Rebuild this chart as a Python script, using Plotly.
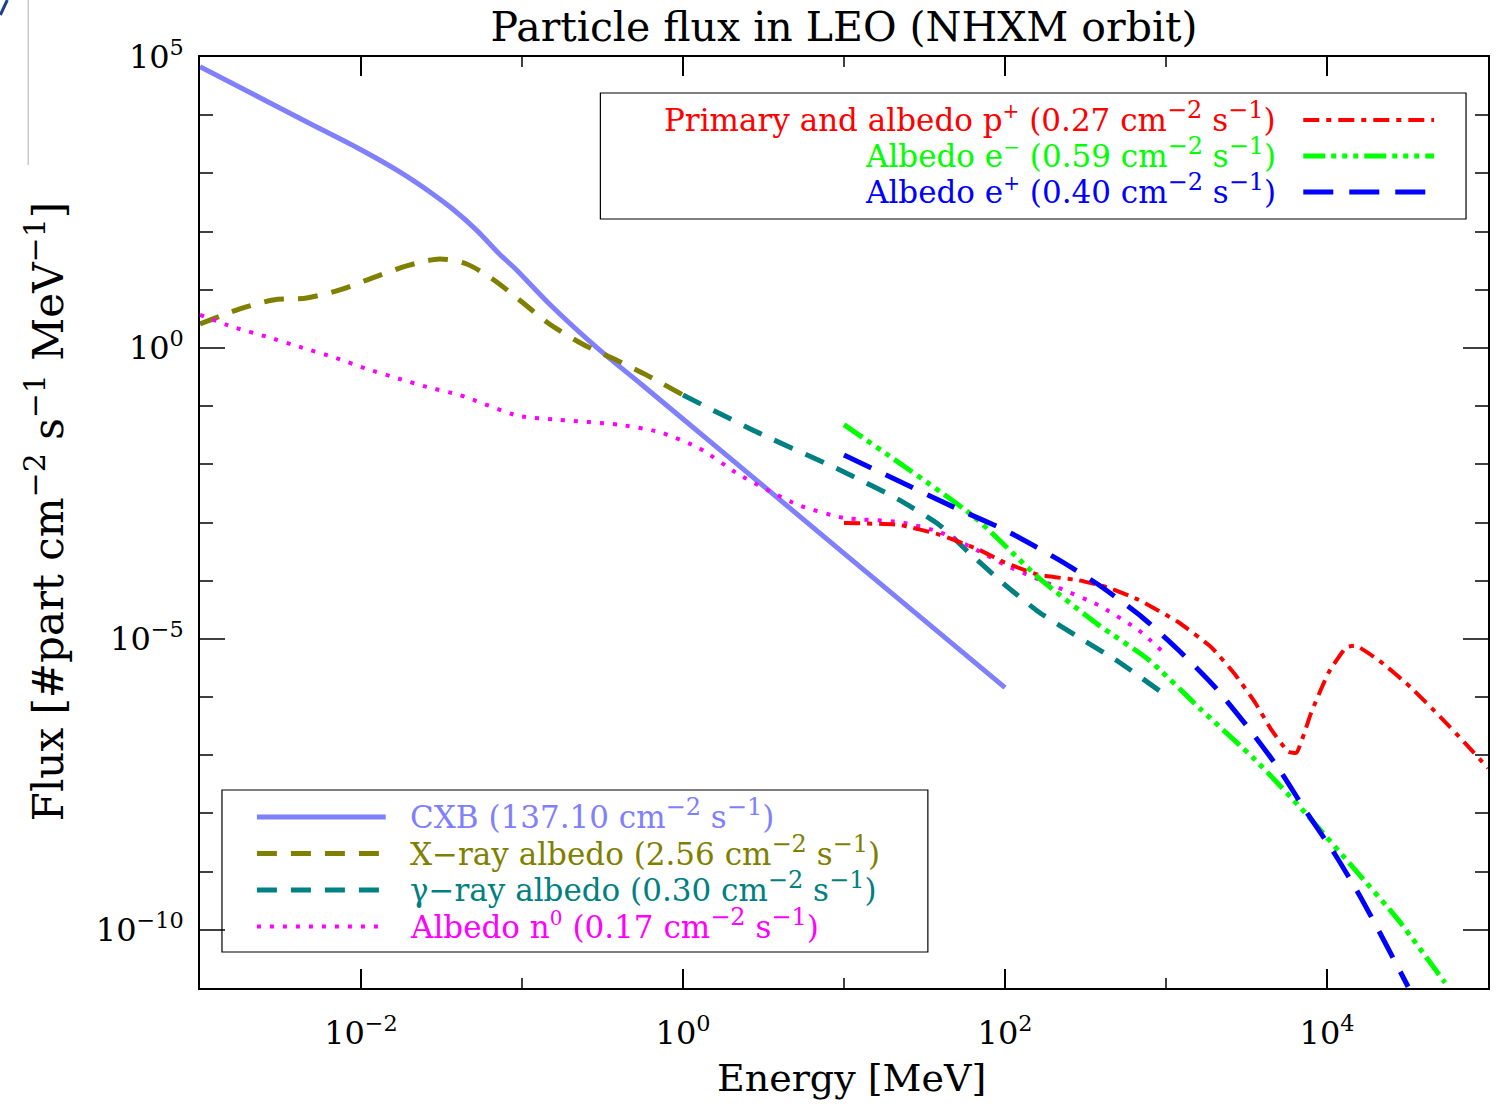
import plotly.graph_objects as go

# ---------------- data ----------------
cxb_E    = [1e-3, 2.13e-3, 4.61e-3, 9.8e-3, 1.74e-2, 2.79e-2, 3.71e-2, 5.22e-2, 7.24e-2, 9.25e-2,
            0.148, 0.303, 0.558, 10.0, 100.0]
cxb_F    = [6.8e4, 2.31e4, 7.64e3, 2.62e3, 1.06e3, 443, 244, 106, 41.2, 21.9,
            5.7, 0.925, 0.231, 2.95e-4, 1.45e-6]

xray_E   = [1e-3, 1.77e-3, 2.84e-3, 4.61e-3, 7.38e-3, 1.18e-2, 1.92e-2, 3.08e-2, 4.53e-2, 6.56e-2,
            9.64e-2, 0.148, 0.237, 0.385, 0.591, 1.0]
xray_F   = [2.58, 4.68, 6.68, 7.23, 9.93, 16.0, 25.7, 33.8, 27.7, 15.3,
            6.68, 2.58, 1.17, 0.622, 0.344, 0.155]

gamma_E  = [1.0, 2.95, 10, 22, 39, 60, 100, 162, 290, 510, 930]
gamma_F  = [0.155, 0.0347, 7.4e-3, 2.45e-3, 9.1e-4, 3.0e-4, 8.5e-5, 2.9e-5, 1.05e-5, 4.0e-6, 1.23e-6]

n0_E     = [1e-3, 1.6e-3, 2.61e-3, 4.17e-3, 6.68e-3, 1.09e-2, 1.74e-2, 2.56e-2, 4.1e-2, 9.5e-2,
            0.17, 0.4, 0.71, 1.26, 2.24, 5.2, 10, 22, 39, 69, 100, 214, 380, 676, 955]
n0_F     = [3.69, 2.30, 1.55, 1.04, 0.70, 0.436, 0.293, 0.214, 0.155, 0.068,
            0.058, 0.048, 0.036, 0.019, 6.6e-3, 2.0e-3, 1.2e-3, 1.02e-3, 6.9e-4, 3.2e-4,
            1.86e-4, 7.6e-5, 3.8e-5, 1.41e-5, 6.0e-6]

p_E      = [10, 22, 39, 69, 100, 162, 286, 440, 675, 1190, 1910, 2700, 3590, 4510, 5750, 6460,
            7980, 10200, 13150, 15200, 21700, 33300, 51200, 72000, 100000]
p_F      = [9.8e-4, 9.1e-4, 6.2e-4, 3.4e-4, 2.04e-4, 1.26e-4, 1.02e-4, 7.6e-5, 4.7e-5, 1.95e-5,
            7.2e-6, 2.4e-6, 7.9e-7, 2.75e-7, 1.15e-7, 1.1e-7, 5.4e-7, 2.6e-6, 7.1e-6, 7.6e-6,
            4.0e-6, 1.45e-6, 4.4e-7, 1.62e-7, 6.0e-8]

em_E     = [10, 64, 162, 381, 778, 1660, 3590, 7330, 14960, 27700, 54100]
em_F     = [0.048, 1.26e-3, 1.12e-4, 1.74e-5, 4.4e-6, 6.0e-7, 8.3e-8, 1.02e-8, 1.07e-9, 1.48e-10, 1.23e-11]

ep_E     = [10, 52, 100, 215, 381, 705, 1190, 2030, 3250, 4990, 7430, 11250, 16300, 22960, 31900]
ep_F     = [0.0145, 1.66e-3, 7.4e-4, 2.3e-4, 8.5e-5, 2.4e-5, 6.5e-6, 1.45e-6, 2.95e-7, 6.0e-8,
            1.07e-8, 1.95e-9, 3.5e-10, 6.0e-11, 1.05e-11]

x_tick_vals  = [1e-2, 1e0, 1e2, 1e4]
x_tick_text  = ["10<sup>−2</sup>", "10<sup>0</sup>", "10<sup>2</sup>", "10<sup>4</sup>"]
x_minor_vals = [1e-3, 1e-2, 1e-1, 1e0, 1e1, 1e2, 1e3, 1e4, 1e5]
y_tick_vals  = [1e5, 1e0, 1e-5, 1e-10]
y_tick_text  = ["10<sup>5</sup>", "10<sup>0</sup>", "10<sup>−5</sup>", "10<sup>−10</sup>"]
y_minor_vals = [10.0 ** k for k in range(-11, 6)]


def sup(s, size=24):
    return '<sup><span style="font-size:%dpx">%s</span></sup>' % (size, s)


UNITS = "cm" + sup("−2") + " s" + sup("−1") + ")"
top_legend = [
    ("Primary and albedo p" + sup("+", 20) + " (0.27 " + UNITS, "#ff0000", "16px,7px,5px,7px", 4),
    ("Albedo e" + sup("−", 20) + " (0.59 " + UNITS, "#00ff00", "22px,6px,5px,6px,5px,6px,5px,6px", 5),
    ("Albedo e" + sup("+", 20) + " (0.40 " + UNITS, "#0000ff", "30px,16px", 5),
]
bottom_legend = [
    ("CXB (137.10 " + UNITS, "#8080ff", "solid", 5),
    ("X−ray albedo (2.56 " + UNITS, "#808000", "20px,14px", 5),
    ("γ−ray albedo (0.30 " + UNITS, "#008080", "20px,14px", 5),
    ("Albedo n" + sup("0", 20) + " (0.17 " + UNITS, "#ff00ff", "4px,9px", 4),
]

FONT = "DejaVu Serif"

# plot area in pixels
L, R, T, B = 200, 1490, 57, 988
W, H = 1502, 1104


def px(x):
    return (x - L) / (R - L)


def py(y):
    return (B - y) / (B - T)


fig = go.Figure()

series = [
    (cxb_E, cxb_F, "#8080ff", "solid", 5, 0.8),
    (xray_E, xray_F, "#808000", "20px,14px", 5, 0.8),
    (gamma_E, gamma_F, "#008080", "20px,14px", 5, 0.6),
    (n0_E, n0_F, "#ff00ff", "4px,9px", 4, 0.6),
    (p_E, p_F, "#ff0000", "16px,7px,5px,7px", 4, 0.4),
    (em_E, em_F, "#00ff00", "22px,6px,5px,6px,5px,6px,5px,6px", 5, 0.6),
    (ep_E, ep_F, "#0000ff", "30px,16px", 5, 0.6),
]
for xs, ys, col, dash, w, sm in series:
    fig.add_trace(go.Scatter(x=xs, y=ys, mode="lines",
                             line=dict(color=col, dash=dash, width=w, shape="spline", smoothing=sm),
                             showlegend=False, hoverinfo="skip"))

shapes = []
annotations = []

# legend boxes
shapes.append(dict(type="rect", xref="paper", yref="paper", x0=px(601), x1=px(1468), y0=py(219), y1=py(93),
                   line=dict(color="black", width=1.2)))
shapes.append(dict(type="rect", xref="paper", yref="paper", x0=px(222), x1=px(929), y0=py(952), y1=py(790),
                   line=dict(color="black", width=1.2)))

for i, (txt, col, dash, w) in enumerate(top_legend):
    yy = 120 + 36 * i
    shapes.append(dict(type="line", xref="paper", yref="paper", x0=px(1305), x1=px(1436), y0=py(yy), y1=py(yy),
                       line=dict(color=col, dash=dash, width=w)))
    annotations.append(dict(xref="paper", yref="paper", x=px(1280), y=py(yy - 3), xanchor="right", yanchor="middle",
                            text=txt, showarrow=False, font=dict(family=FONT, size=31, color=col)))

for i, (txt, col, dash, w) in enumerate(bottom_legend):
    yy = 817 + 36.5 * i
    shapes.append(dict(type="line", xref="paper", yref="paper", x0=px(257), x1=px(386), y0=py(yy), y1=py(yy),
                       line=dict(color=col, dash=dash, width=w)))
    annotations.append(dict(xref="paper", yref="paper", x=px(408), y=py(yy - 3), xanchor="left", yanchor="middle",
                            text=txt, showarrow=False, font=dict(family=FONT, size=31, color=col)))

# axis titles
annotations.append(dict(xref="paper", yref="paper", x=px(853), y=py(1078), xanchor="center", yanchor="middle",
                        text="Energy [MeV]", showarrow=False, font=dict(family=FONT, size=38, color="black")))
annotations.append(dict(xref="paper", yref="paper", x=px(45), y=py(512), xanchor="center", yanchor="middle",
                        textangle=-90,
                        text="Flux [#part cm" + sup("−2", 30) + " s" + sup("−1", 30) + " MeV" + sup("−1", 30) + "]",
                        showarrow=False, font=dict(family=FONT, size=42, color="black")))

# slide artefacts in the corner
shapes.append(dict(type="line", xref="paper", yref="paper", x0=px(28), x1=px(28), y0=py(0), y1=py(165),
                   line=dict(color="#c8c8c8", width=1.5)))
shapes.append(dict(type="line", xref="paper", yref="paper", x0=px(0), x1=px(7), y0=py(15), y1=py(0),
                   line=dict(color="#1f3f8f", width=3)))

fig.update_layout(
    width=W, height=H,
    margin=dict(l=L, r=W - R, t=T, b=H - B),
    paper_bgcolor="white", plot_bgcolor="white",
    title=dict(text="Particle flux in LEO (NHXM orbit)", x=844 / W, xanchor="center",
               y=1 - 27 / H, yanchor="middle", font=dict(family=FONT, size=41, color="black")),
    shapes=shapes, annotations=annotations,
    showlegend=False,
)

fig.update_xaxes(type="log", range=[-3, 5], showgrid=False, zeroline=False,
                 showline=True, linecolor="black", linewidth=1.5, mirror="allticks",
                 ticks="inside", ticklen=19, tickwidth=1.5, tickcolor="black",
                 tickvals=x_tick_vals, ticktext=x_tick_text, ticklabelstandoff=16,
                 tickfont=dict(family=FONT, size=32, color="black"),
                 minor=dict(tickvals=x_minor_vals, ticks="inside", ticklen=10, tickwidth=1.5, tickcolor="#404040",
                            showgrid=False))
fig.update_yaxes(type="log", range=[-11, 5], showgrid=False, zeroline=False,
                 showline=True, linecolor="black", linewidth=1.5, mirror="allticks",
                 ticks="inside", ticklen=25, tickwidth=1.5, tickcolor="#404040",
                 tickvals=y_tick_vals, ticktext=y_tick_text, ticklabelstandoff=8,
                 tickfont=dict(family=FONT, size=32, color="black"),
                 minor=dict(tickvals=y_minor_vals, ticks="inside", ticklen=13, tickwidth=1.5, tickcolor="#404040",
                            showgrid=False))

fig.write_html("out.html")
